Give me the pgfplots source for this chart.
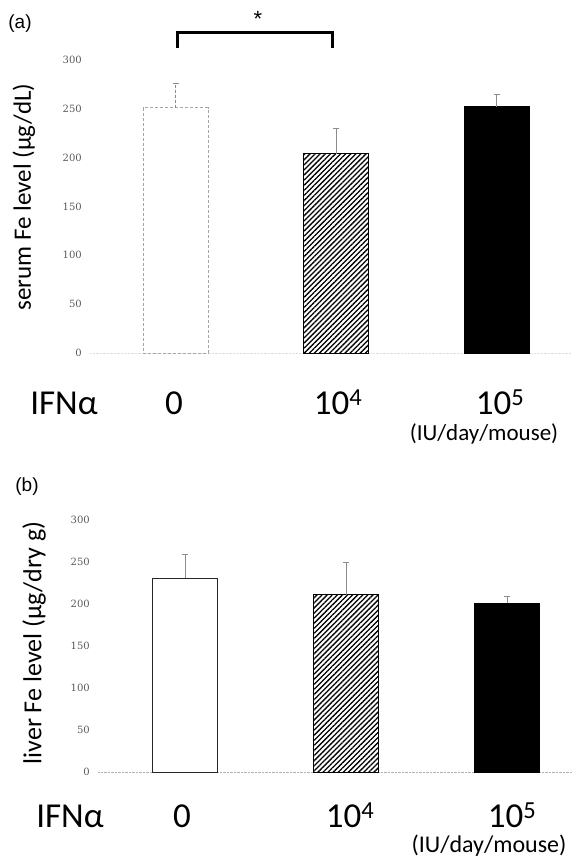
\documentclass[border=0pt]{standalone}
\usepackage{pgfplots}
\pgfplotsset{compat=1.18}
\usepackage{fontspec}
\setmainfont{Carlito}
\newfontfamily\tickfont{DejaVu Serif}
\newfontfamily\arialfont{Liberation Sans}
\usetikzlibrary{patterns.meta}

\pgfplotsset{
  febar/.style={
    scale only axis, clip=false,
    xmin=90, xmax=572, ymin=0, ymax=300,
    axis lines*=left, axis line style={-},
    y axis line style={draw=none},
    xtick=\empty, ytick={0,50,...,300}, major tick length=0pt,
    yticklabel style={font=\tickfont\fontsize{10}{10}\selectfont, text=black!65, anchor=east, inner sep=0pt, xshift=-8pt},
    /pgf/number format/assume math mode=true,
    ybar, bar width=65, bar shift=0pt,
    error bars/y dir=plus, error bars/y explicit,
    error bars/error bar style={line width=0.8pt, black!45},
    error bars/error mark options={rotate=90, mark size=3pt, line width=0.8pt, black!45},
  },
  hatchbar/.style={draw=black, line width=0.8pt, pattern={Lines[angle=45, distance=3.6pt, line width=1.3pt]}},
  blackbar/.style={draw=black, fill=black, line width=0.8pt},
}

\begin{document}
\begin{tikzpicture}[x=1pt,y=1pt]
\path[use as bounding box] (0,0) rectangle (572,861);

% ---------------- panel (a)
\begin{axis}[febar, at={(90pt,508pt)}, anchor=south west, width=482pt, height=293pt,
  x axis line style={black!12, densely dotted}]
\addplot[draw=black!35, fill=white, line width=0.8pt, densely dashed] coordinates {(175.5,251) +- (0,25)};
\addplot[hatchbar] coordinates {(336,204) +- (0,26)};
\addplot[blackbar] coordinates {(496.5,252) +- (0,13)};
\draw[line width=3pt] (axis cs:177,312) -- (axis cs:177,328) -- (axis cs:332,328) -- (axis cs:332,312);
\end{axis}
\node[font=\arialfont\fontsize{22}{22}\selectfont] at (258,842) {*};
\node[font=\arialfont\fontsize{19}{19}\selectfont] at (20,837) {(a)};
\node[rotate=90, font=\fontsize{25}{25}\selectfont] at (24,664) {serum Fe level (μg/dL)};

\begin{scope}[font=\fontsize{35}{35}\selectfont]
\node[anchor=base] at (64,446) {IFNα};
\node[anchor=base] at (174,446) {0};
\node[anchor=base] at (338,446) {10\textsuperscript{4}};
\node[anchor=base] at (500,446) {10\textsuperscript{5}};
\end{scope}
\node[anchor=base, font=\fontsize{23}{23}\selectfont] at (484,420) {(IU/day/mouse)};

% ---------------- panel (b)
\begin{axis}[febar, at={(98pt,89pt)}, anchor=south west, width=474pt, height=252pt,
  xmin=98, x axis line style={black!30, densely dotted}]
\addplot[draw=black!85, fill=white, line width=0.8pt] coordinates {(185,231) +- (0,28.5)};
\addplot[hatchbar] coordinates {(346,211) +- (0,39)};
\addplot[blackbar] coordinates {(507,201) +- (0,8.5)};
\end{axis}
\node[font=\arialfont\fontsize{19}{19}\selectfont] at (27,374) {(b)};
\node[rotate=90, font=\fontsize{26}{26}\selectfont] at (34,218) {liver Fe level (μg/dry g)};

\begin{scope}[font=\fontsize{35}{35}\selectfont]
\node[anchor=base] at (70,33) {IFNα};
\node[anchor=base] at (182,33) {0};
\node[anchor=base] at (350,33) {10\textsuperscript{4}};
\node[anchor=base] at (512,33) {10\textsuperscript{5}};
\end{scope}
\node[anchor=base, font=\fontsize{24}{24}\selectfont] at (489,9) {(IU/day/mouse)};
\end{tikzpicture}
\end{document}
